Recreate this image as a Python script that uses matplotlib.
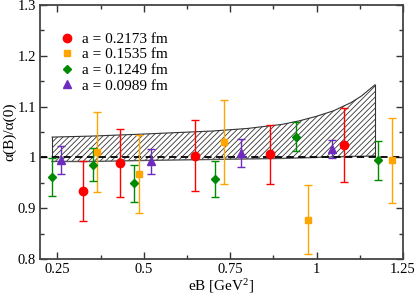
import matplotlib
matplotlib.use("Agg")
import matplotlib.pyplot as plt
from matplotlib.ticker import MultipleLocator

# ---------------- DATA ----------------
# lattice spacings (legend)
labels = ["a = 0.2173 fm", "a = 0.1535 fm", "a = 0.1249 fm", "a = 0.0989 fm"]

red_x = [0.323, 0.432, 0.647, 0.864, 1.080]
red_y = [0.934, 0.989, 1.003, 1.006, 1.024]
red_err = [0.059, 0.066, 0.070, 0.058, 0.073]

orange_x = [0.366, 0.487, 0.731, 0.974, 1.219]
orange_y = [1.010, 0.968, 1.031, 0.877, 0.994]
orange_err = [0.079, 0.077, 0.083, 0.068, 0.083]

green_x = [0.236, 0.352, 0.473, 0.707, 0.941, 1.177]
green_y = [0.962, 0.986, 0.949, 0.958, 1.041, 0.994]
green_err = [0.037, 0.032, 0.036, 0.035, 0.028, 0.038]

purple_x = [0.261, 0.522, 0.782, 1.044]
purple_y = [0.995, 0.992, 1.009, 1.016]
purple_err = [0.028, 0.025, 0.027, 0.018]

# continuum band (hatched)
band_x = [0.235, 0.35, 0.5, 0.6, 0.7, 0.8, 0.9, 0.95, 1.0, 1.05, 1.1, 1.13, 1.169]
band_hi = [1.040, 1.042, 1.046, 1.049, 1.052, 1.057, 1.065, 1.072, 1.081, 1.092, 1.108, 1.121, 1.143]
band_lo = [0.992, 0.992, 0.994, 0.995, 0.996, 0.997, 0.998, 0.999, 1.000, 1.001, 1.002, 1.002, 1.003]
# --------------------------------------

plt.rcParams['font.family'] = ['Liberation Serif', 'DejaVu Serif']
plt.rcParams['mathtext.fontset'] = 'custom'
plt.rcParams['mathtext.rm'] = 'Liberation Serif'
plt.rcParams['mathtext.it'] = 'Liberation Serif:italic'
plt.rcParams['hatch.linewidth'] = 0.6
plt.rcParams['hatch.color'] = '#333333'

fig = plt.figure(figsize=(4.15, 2.96), dpi=100)
ax = fig.add_axes([0.0964, 0.125, 0.8747, 0.858])

# band
ax.fill_between(band_x, band_lo, band_hi, facecolor='none', edgecolor='#333333',
                hatch='//////', linewidth=0.0, zorder=1)
ax.plot(band_x, band_hi, color='#333333', lw=0.8, zorder=2)
ax.plot(band_x, band_lo, color='#555555', lw=1.0, zorder=2)
ax.plot([band_x[0], band_x[0]], [band_lo[0], band_hi[0]], color='#333333', lw=0.8, zorder=2)
ax.plot([band_x[-1], band_x[-1]], [band_lo[-1], band_hi[-1]], color='#333333', lw=0.8, zorder=2)

# reference line at 1
ax.axhline(1.0, color='black', lw=1.3, ls=(0, (4, 2.5)), zorder=2)

series = [
    (red_x, red_y, red_err, '#ff0000', 'o', 6.0),
    (orange_x, orange_y, orange_err, '#ffa500', 's', 5.0),
    (green_x, green_y, green_err, '#008a00', 'D', 4.2),
    (purple_x, purple_y, purple_err, '#6f2bbf', '^', 5.5),
]
for (x, y, e, c, m, ms), lab in zip(series, labels):
    ax.errorbar(x, y, yerr=e, fmt=m, color=c, ms=ms, capsize=3, elinewidth=1.0,
                capthick=1.0, label=lab, zorder=3)

ax.set_xlim(0.2, 1.25)
ax.set_ylim(0.8, 1.3)
ax.xaxis.set_minor_locator(MultipleLocator(0.125))
ax.yaxis.set_minor_locator(MultipleLocator(0.05))
ax.set_xticks([0.25, 0.5, 0.75, 1.0, 1.25])
ax.set_xticklabels(['0.25', '0.5', '0.75', '1', '1.25'])
ax.set_yticks([0.8, 0.9, 1.0, 1.1, 1.2, 1.3])
ax.set_yticklabels(['0.8', '0.9', '1', '1.1', '1.2', '1.3'])
ax.tick_params(which='both', direction='in', top=True, right=True, labelsize=10.5,
               colors='#333333', labelcolor='black')
ax.tick_params(which='major', length=5, width=1.0, pad=3)
ax.tick_params(which='minor', length=3, width=1.0)
for s in ax.spines.values():
    s.set_linewidth(1.3)
    s.set_color('#444444')

ax.set_xlabel('eB [GeV$^2$]', fontsize=11, labelpad=1)
ax.set_ylabel('α(B)/α(0)', fontsize=11, labelpad=1)

handles, labs = ax.get_legend_handles_labels()
handles = [h[0] for h in handles]
ax.legend(handles, labs, loc='upper left', bbox_to_anchor=(0.025, 0.935), frameon=False,
          fontsize=11, handlelength=1.0, handletextpad=0.45, labelspacing=0.12,
          borderpad=0.2)

fig.savefig('out.png', dpi=100)
